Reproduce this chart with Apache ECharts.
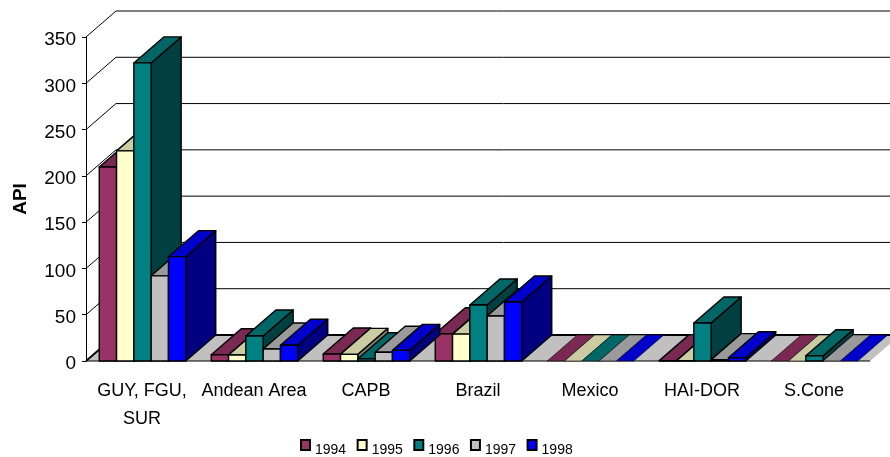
<!DOCTYPE html>
<html>
<head>
<meta charset="utf-8">
<style>
  html, body { margin: 0; padding: 0; background: #fff; }
  #chart { width: 890px; height: 457px; }
</style>
<script src="https://cdn.jsdelivr.net/npm/echarts@6/dist/echarts.min.js"></script>
</head>
<body>
<div id="chart"></div>
<script>
const categories = ["GUY, FGU,\nSUR", "Andean Area", "CAPB", "Brazil", "Mexico", "HAI-DOR", "S.Cone"];
const years = ["1994", "1995", "1996", "1997", "1998"];
const yTicks = [0, 50, 100, 150, 200, 250, 300, 350];

const v1994 = [209.5, 6.8, 7.5, 29.5, 0, 0.4, 0];
const v1995 = [227, 6.5, 7.2, 29, 0, 0.4, 0];
const v1996 = [322, 27, 2.5, 60.5, 0, 41, 5.7];
const v1997 = [92, 13, 9.4, 48.6, 0, 1.5, 0];
const v1998 = [112.7, 17, 11.5, 63.7, 0, 3.5, 0];
const allValues = [v1994, v1995, v1996, v1997, v1998];

const colors = ["#993366", "#FFFFCC", "#008080", "#C0C0C0", "#0000FF"];

// depth of the fake 3d box, in pixels
const DX = 30;
const DY = -26;
const BAR_RATIO = 17.3 / 112;
const FONT = '"Liberation Sans", Arial, sans-serif';

const shade = (hex, k) => {
  const n = parseInt(hex.slice(1), 16);
  const c = [(n >> 16) & 255, (n >> 8) & 255, n & 255].map((v) => Math.round(v * k));
  return `rgb(${c[0]},${c[1]},${c[2]})`;
};

const poly = (points, fill, lineWidth) => ({
  type: "polygon",
  shape: { points },
  style: { fill, stroke: "#000", lineWidth, lineJoin: "round" },
});

const renderBar = (seriesIdx) => (params, api) => {
  const band = api.size([1, 0])[0];
  const w = band * BAR_RATIO;
  const value = api.value(1);
  const base = api.coord([api.value(0), 0]);
  const top = api.coord([api.value(0), value]);
  const x0 = base[0] + 0.5 + (seriesIdx - 2.5) * w;
  const x1 = x0 + w;
  const y0 = base[1];
  const y1 = top[1];
  const color = colors[seriesIdx];
  // bars at exactly zero only show a flat top with a thin edge
  if (value === 0) {
    return poly([[x0, y1], [x0 + DX, y1 + DY], [x1 + DX, y1 + DY], [x1, y1]], shade(color, 0.8), 0.6);
  }
  return {
    type: "group",
    children: [
      poly([[x1, y1], [x1 + DX, y1 + DY], [x1 + DX, y0 + DY], [x1, y0]], shade(color, 0.5), 1.4),
      poly([[x0, y1], [x0 + DX, y1 + DY], [x1 + DX, y1 + DY], [x1, y1]], shade(color, 0.8), 1.4),
      poly([[x0, y0], [x0, y1], [x1, y1], [x1, y0]], color, 1.4),
    ],
  };
};

const renderGridLine = (params, api) => {
  const cs = params.coordSys;
  const tick = api.value(0);
  const y = api.coord([0, tick])[1];
  return {
    type: "polyline",
    shape: {
      points: [[cs.x, y], [cs.x + DX, y + DY], [cs.x + cs.width + DX, y + DY]],
    },
    style: { fill: "none", stroke: "#000", lineWidth: tick === 0 ? 1.8 : 1 },
  };
};

const renderFloor = (params) => {
  const cs = params.coordSys;
  const b = cs.y + cs.height;
  const l = cs.x;
  const r = cs.x + cs.width;
  return {
    type: "group",
    children: [
      {
        type: "polygon",
        shape: { points: [[l, b], [r, b], [r + DX, b + DY], [l + DX, b + DY]] },
        style: { fill: "#C0C0C0", stroke: "none" },
      },
      {
        type: "line",
        shape: { x1: l, y1: b, x2: r, y2: b },
        style: { stroke: "#000", lineWidth: 1 },
      },
    ],
  };
};

const series = [
  {
    type: "custom",
    silent: true,
    renderItem: renderFloor,
    data: [[0]],
    encode: { y: 0 },
    z: 1,
  },
  {
    type: "custom",
    silent: true,
    renderItem: renderGridLine,
    data: yTicks.map((t) => [t]),
    encode: { y: 0 },
    z: 1,
  },
];

years.forEach((year, i) => {
  series.push({
    name: year,
    type: "custom",
    renderItem: renderBar(i),
    itemStyle: { color: colors[i], borderColor: "#000", borderWidth: 1 },
    data: allValues[i].map((v, idx) => [idx, v]),
    encode: { x: 0, y: 1 },
    z: 2,
  });
});

const chart = echarts.init(document.getElementById("chart"), null, { renderer: "canvas" });
chart.setOption({
  animation: false,
  backgroundColor: "#fff",
  textStyle: { fontFamily: FONT },
  grid: { left: 86, right: 20, top: 37, bottom: 96 },
  legend: {
    data: years,
    left: 295,
    top: 434,
    itemWidth: 9,
    itemHeight: 10,
    itemGap: 10.5,
    icon: "rect",
    formatter: "{t|{name}}",
    textStyle: {
      fontFamily: FONT,
      fontSize: 14,
      color: "#000",
      rich: { t: { fontFamily: FONT, fontSize: 14, color: "#000", padding: [10, 0, 0, 0] } },
    },
  },
  xAxis: {
    type: "category",
    data: categories,
    axisLine: { show: false },
    axisTick: { show: false },
    axisLabel: {
      interval: 0,
      color: "#000",
      fontFamily: FONT,
      fontSize: 18,
      lineHeight: 28,
      margin: 16,
    },
  },
  yAxis: {
    type: "value",
    min: 0,
    max: 350,
    interval: 50,
    name: "API",
    nameLocation: "middle",
    nameRotate: 90,
    nameGap: 56,
    nameTextStyle: { fontFamily: FONT, fontSize: 19, fontWeight: "bold", color: "#000" },
    splitLine: { show: false },
    axisLine: { show: true, lineStyle: { color: "#000", width: 1 } },
    axisTick: { show: true, length: 4, lineStyle: { color: "#000" } },
    axisLabel: {
      margin: 10,
      formatter: "{t|{value}}",
      rich: { t: { color: "#000", fontFamily: FONT, fontSize: 19, padding: [6, 0, 0, 0] } },
    },
  },
  series,
});
</script>
</body>
</html>
